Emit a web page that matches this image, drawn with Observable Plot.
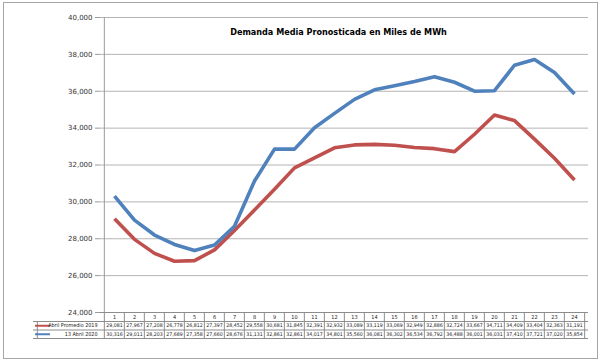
<!DOCTYPE html>
<html><head><meta charset="utf-8">
<script src="https://cdn.jsdelivr.net/npm/d3@7"></script>
<script src="https://cdn.jsdelivr.net/npm/@observablehq/plot@0.6"></script>
<style>
html,body{margin:0;padding:0;background:#fff;}
#chart svg{display:block;}
#chart g[aria-label="y-axis tick"] path{stroke:#9a9a9a;}
</style></head><body><div id="chart"></div>
<script>
const title = "Demanda Media Pronosticada en Miles de MWh";
const hours = [1,2,3,4,5,6,7,8,9,10,11,12,13,14,15,16,17,18,19,20,21,22,23,24];
const seriesNames = ["Abril Promedio 2019", "13 Abril 2020"];
const promedio2019 = [29081,27967,27208,26778,26812,27397,28452,29558,30681,31845,32391,32932,33089,33119,33069,32949,32886,32724,33667,34711,34409,33404,32363,31191];
const abril2020 = [30316,29011,28203,27689,27358,27660,28676,31131,32861,32861,34017,34801,35560,36081,36302,36534,36792,36488,36001,36031,37410,37721,37020,35854];
const yTicks = [24000,26000,28000,30000,32000,34000,36000,38000,40000];
const seriesColors = ["#C0504D", "#4F81BD"];

const seriesValues = [promedio2019, abril2020];
const rows = seriesNames.flatMap((s, k) => hours.map((h, i) => ({hour: h, series: s, value: seriesValues[k][i]})));

const W = 600, H = 361, mL = 100, mR = 12, mT = 17, mB = 49;
const step = (W - mL - mR) / hours.length;
const fmt = d3.format(",");
const frameH = H - mT - mB;
const rowTops = [0, 9, 17.5, 26]; // table row separators (px below frame bottom)
const rowMid = [4.5, 13.25, 21.75];
const gridC = "#b4b4b4", tableC = "#8c8c8c";
const tableFont = "DejaVu Sans Condensed, DejaVu Sans, sans-serif";

const marks = [
  // outer chart border
  Plot.frame({stroke: "#a6a6a6", insetLeft: -97, insetRight: -9, insetTop: -15, insetBottom: -46}),
  // gridlines
  Plot.ruleY(yTicks, {stroke: gridC, strokeWidth: 1}),
  // y axis line
  Plot.ruleX([hours[0]], {dx: -step / 2, stroke: "#9a9a9a"}),
  Plot.axisY(yTicks, {tickFormat: fmt, tickSize: 5, tickPadding: 3, fontSize: 7, fill: "#333", label: null, fontFamily: "DejaVu Sans, sans-serif"}),
  // lines
  Plot.line(rows, {x: "hour", y: "value", stroke: "series", strokeWidth: 3.6, strokeLinejoin: "round", strokeLinecap: "butt", z: "series"}),
  // title
  Plot.text([title], {frameAnchor: "top", dx: -6, dy: 15, lineAnchor: "middle", fontWeight: "bold", fontSize: 9, fontFamily: "DejaVu Sans Condensed, DejaVu Sans, sans-serif", fill: "#000"}),
  // table: column separators
  Plot.ruleX(hours, {x: d => d, dx: -step / 2, insetTop: frameH, insetBottom: -rowTops[3], stroke: tableC}),
  Plot.ruleX([hours[hours.length - 1]], {dx: step / 2, insetTop: frameH, insetBottom: -rowTops[3], stroke: tableC}),
  Plot.ruleX([hours[0]], {dx: -step / 2 - 67, insetTop: frameH + rowTops[1], insetBottom: -rowTops[3], stroke: tableC}),
  // table: row separators
  Plot.ruleY([yTicks[0]], {stroke: tableC}),
  ...rowTops.slice(1).map(t => Plot.ruleY([yTicks[0]], {dy: t, insetLeft: -67, stroke: tableC})),
  // header
  Plot.text(hours, {x: d => d, text: d => String(d), frameAnchor: "bottom", dy: rowMid[0], lineAnchor: "middle", fontSize: 5.5, fontFamily: tableFont, fill: "#222"}),
  // values
  ...seriesNames.map((s, k) => Plot.text(rows.filter(r => r.series === s), {x: "hour", text: d => fmt(d.value), frameAnchor: "bottom", dy: rowMid[k + 1], lineAnchor: "middle", fontSize: 5.2, fontFamily: tableFont, fill: "#222"})),
  // legend keys
  ...seriesNames.map((s, k) => Plot.ruleY([yTicks[0]], {dy: rowMid[k + 1], insetLeft: -65, insetRight: (W - mR) - 50, stroke: seriesColors[k], strokeWidth: 2})),
  ...seriesNames.map((s, k) => Plot.text([s], {frameAnchor: "bottom-left", dx: -3, dy: rowMid[k + 1], textAnchor: "end", lineAnchor: "middle", fontSize: 5.4, fontFamily: tableFont, fill: "#222"}))
];

const chart = Plot.plot({
  width: W, height: H,
  marginLeft: mL, marginRight: mR, marginTop: mT, marginBottom: mB,
  style: {background: "#fff", overflow: "visible"},
  x: {type: "point", domain: hours, padding: 0.5, axis: null},
  y: {domain: [yTicks[0], yTicks[yTicks.length - 1]], axis: null},
  color: {domain: seriesNames, range: seriesColors},
  marks
});
document.getElementById("chart").append(chart);
</script>
</body></html>
